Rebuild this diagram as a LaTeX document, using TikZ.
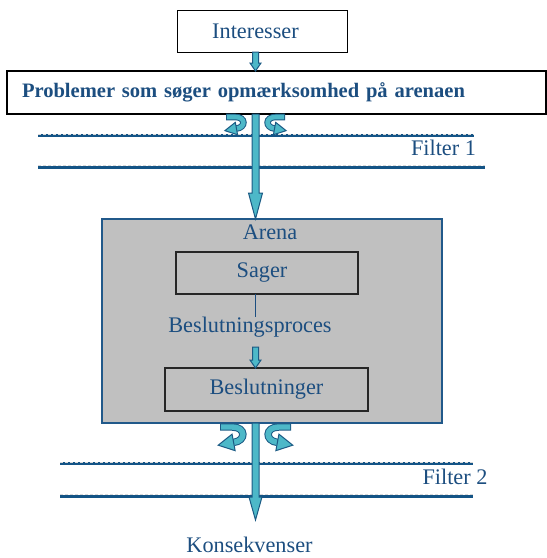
\documentclass[tikz,border=0pt]{standalone}
\usepackage{fontspec}
\setmainfont{Liberation Serif}
\usetikzlibrary{calc}
\definecolor{txt}{HTML}{1C4E80}
\definecolor{fline}{HTML}{145486}
\definecolor{tealfill}{HTML}{4DB8C8}
\definecolor{arrowline}{HTML}{1B5A84}
\definecolor{arenafill}{HTML}{C0C0C0}
\definecolor{arenaline}{HTML}{21598A}
\newcommand\blockarr[5]{%
  \draw[barrow] ($(#1)+(-#4,0)$) -- ($(#2)+(-#4,-#3)$) -- ($(#2)+(-#5,-#3)$) -- (#2)
    -- ($(#2)+(#5,-#3)$) -- ($(#2)+(#4,-#3)$) -- ($(#1)+(#4,0)$) -- cycle;}
\newcommand\hookarr[5]{%
  \begin{scope}[shift={#1}, xscale=#2, scale=#3]
    \draw[arrowline, line width=#4, shorten <=-0.75pt] (0,0) -- (8,0) .. controls (18,0) and (18,10) .. (9,11);
    \draw[tealfill, line width=#5] (0,0) -- (8,0) .. controls (18,0) and (18,10) .. (9,11);
    \draw[barrow] (7.9,5.1) -- (-2,13) -- (10.1,16.9) -- cycle;
  \end{scope}}
\begin{document}
\begin{tikzpicture}[x=0.75pt, y=-0.75pt,
  every node/.style={font=\fontsize{16.7}{20}\selectfont, text=txt, inner sep=0pt, outer sep=0pt},
  box/.style={draw=black, line width=0.75pt, fill=white},
  innerbox/.style={draw=black!85, line width=1.1pt},
  barrow/.style={fill=tealfill, draw=arrowline, line width=0.75pt, line join=miter},
  filterline/.style={draw=fline, line width=2.25pt},
  filterhi/.style={draw=white!70!gray, line width=0.6pt, dash pattern=on 2.25pt off 1.5pt},
  thinline/.style={draw=txt, line width=0.9pt}]
\useasboundingbox (0,0) rectangle (547,558);
\coordinate (axis) at (255.5,0);
% filter lines
\draw[filterline] (38,135.5) -- (474,135.5);
\draw[filterhi] (38,134) -- (474,134);
\draw[filterline] (38,167) -- (485,167);
\draw[filterhi] (38,165.5) -- (485,165.5);
\draw[filterline] (60,463.5) -- (473,463.5);
\draw[filterhi] (60,462) -- (473,462);
\draw[filterline] (60,496) -- (473,496);
\draw[filterhi] (60,494.5) -- (473,494.5);
\node (f1) at (443.5,148) {Filter 1};
\node (f2) at (455,477) {Filter 2};
% boxes
\node[box, minimum width=127.5pt, minimum height=31.5pt] (int) at (262,31) {\hspace*{-9.75pt}Interesser};
\node[box, line width=1.1pt, minimum height=32.25pt, text width=381.75pt, inner xsep=11.25pt, align=left, font=\fontsize{15.4}{19}\selectfont\bfseries] (prob) at (276.5,92.5) {Problemer som søger opmærksomhed på arenaen};
\node[draw=arenaline, fill=arenafill, line width=1.5pt, minimum width=255pt, minimum height=153pt] (arena) at (272,321) {};
\node (arenat) at (270,232) {Arena};
\node[innerbox, minimum width=136.5pt, minimum height=31.5pt] (sager) at (267,273) {\hspace*{-7.5pt}Sager};
\node (bp) at (250,327) {Beslutningsproces};
\node[innerbox, minimum width=152.25pt, minimum height=32.25pt] (besl) at (266.5,389.5) {Beslutninger};
\node (kons) at (249.5,545) {Konsekvenser};
% connectors
\coordinate (a1s) at (int.south -| axis);
\coordinate (a1e) at (prob.north -| axis);
\blockarr{a1s}{a1e}{8}{3}{5.5}
\coordinate (a2s) at (prob.south -| axis);
\coordinate (a2e) at (arena.north -| axis);
\blockarr{a2s}{a2e}{26}{3.5}{7}
\draw[thinline] (sager.south -| axis) -- (bp.north -| axis);
\coordinate (a3s) at (255.5,347);
\coordinate (a3e) at (besl.north -| axis);
\blockarr{a3s}{a3e}{8}{3}{5.5}
\coordinate (a4s) at (arena.south -| axis);
\coordinate (a4e) at (255.5,520);
\blockarr{a4s}{a4e}{23}{3.5}{6.5}
% hooks
\hookarr{(227,117)}{1}{1.05}{4.9pt}{3.4pt}
\hookarr{(284,117)}{-1}{1.05}{4.9pt}{3.4pt}
\hookarr{(221,427)}{1}{1.4}{5.6pt}{4.1pt}
\hookarr{(290,427)}{-1}{1.4}{5.6pt}{4.1pt}
\end{tikzpicture}
\end{document}
